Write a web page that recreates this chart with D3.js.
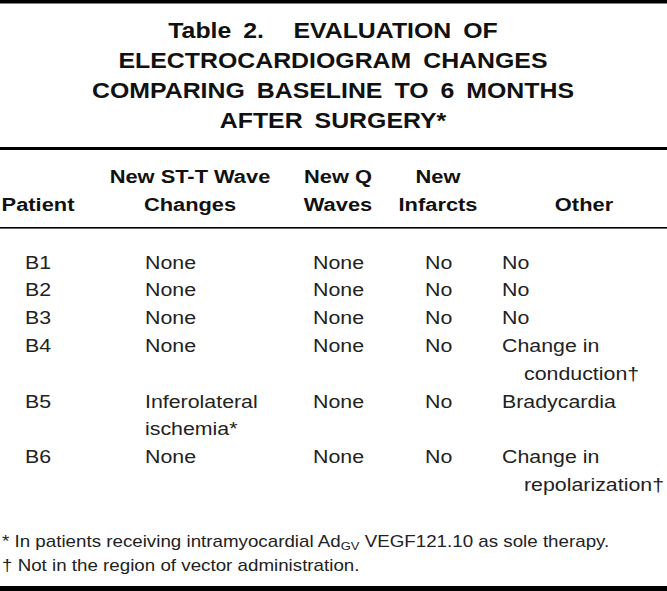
<!DOCTYPE html>
<html>
<head>
<meta charset="utf-8">
<script src="https://cdn.jsdelivr.net/npm/d3@7"></script>
<style>
  body { margin: 0; background: #fff; }
  svg { display: block; }
  text { font-family: "Liberation Sans", Arial, Helvetica, sans-serif; fill: #111; }
</style>
</head>
<body>
<div id="chart"></div>
<script>
// table content
var titleLines = ["Table 2.", "ELECTROCARDIOGRAM CHANGES", "COMPARING BASELINE TO 6 MONTHS", "AFTER SURGERY*"];
var titleTail = "EVALUATION OF";

var columns = ["patient", "st", "q", "infarct", "other"];
var headers = [["Patient"], ["New ST-T Wave", "Changes"], ["New Q", "Waves"], ["New", "Infarcts"], ["Other"]];

var patients  = ["B1", "B2", "B3", "B4", "B5", "B6"];
var stChanges = [["None"], ["None"], ["None"], ["None"], ["Inferolateral", "ischemia*"], ["None"]];
var qWaves    = [["None"], ["None"], ["None"], ["None"], ["None"], ["None"]];
var infarcts  = [["No"], ["No"], ["No"], ["No"], ["No"], ["No"]];
var other     = [["No"], ["No"], ["No"], ["Change in", "conduction\u2020"], ["Bradycardia"], ["Change in", "repolarization\u2020"]];

var footnotes = [
  [{t: "* In patients receiving intramyocardial Ad"}, {t: "GV", sub: true}, {t: " VEGF121.10 as sole therapy."}],
  [{t: "\u2020 Not in the region of vector administration."}]
];

function run_table() {
  var width = 667,
      height = 591,
      sx = 1.13; // glyphs in the scan are a bit wider than Liberation

  var svg = d3.select("#chart").append("svg")
      .attr("width", width)
      .attr("height", height);

  // rules
  var rules = [
    {y: 0, h: 3.5},
    {y: 147, h: 3},
    {y: 227, h: 1.6},
    {y: 586, h: 5}
  ];
  svg.selectAll("rect.rule")
    .data(rules)
    .enter().append("rect")
      .attr("class", "rule")
      .attr("x", 0)
      .attr("width", width)
      .attr("y", function(d) { return d.y; })
      .attr("height", function(d) { return d.h; })
      .style("fill", "#000");

  // title
  var titleY = d3.scaleLinear().domain([0, 3]).range([38, 127.5]);
  var title = svg.selectAll("text.title")
    .data(titleLines)
    .enter().append("text")
      .attr("class", "title")
      .attr("text-anchor", "middle")
      .attr("transform", function(d, i) { return "translate(333," + titleY(i) + ") scale(" + sx + ",1)"; })
      .style("font-weight", "bold")
      .style("font-size", "22px")
      .style("word-spacing", "4.5px");
  title.append("tspan").text(function(d) { return d; });
  title.filter(function(d, i) { return i === 0; })
    .append("tspan").attr("dx", 26).text(titleTail);

  // column positions
  var headX = d3.scaleOrdinal().domain(columns).range([38, 190, 338, 438, 584]);
  var bodyX = d3.scaleOrdinal().domain(columns).range([38, 145, 313, 425, 502]);
  var bodyAnchor = d3.scaleOrdinal().domain(columns).range(["middle", "start", "start", "start", "start"]);

  // header (bottom aligned)
  var headY = d3.scaleLinear().domain([0, 1]).range([183, 211]);
  headers.forEach(function(lines, c) {
    svg.selectAll(null)
      .data(lines)
      .enter().append("text")
        .attr("text-anchor", "middle")
        .attr("transform", function(d, i) {
          var k = i + (2 - lines.length);
          return "translate(" + headX(columns[c]) + "," + headY(k) + ") scale(1.15,1)";
        })
        .style("font-weight", "bold")
        .style("font-size", "19px")
        .text(function(d) { return d; });
  });

  // body rows
  var lineY = d3.scaleLinear().domain([0, 1]).range([268.5, 296.3]);
  var rows = patients.map(function(p, i) {
    return {patient: [p], st: stChanges[i], q: qWaves[i], infarct: infarcts[i], other: other[i]};
  });
  var start = 0;
  rows.forEach(function(r) {
    r.start = start;
    start += d3.max(columns, function(c) { return r[c].length; });
  });

  rows.forEach(function(r) {
    columns.forEach(function(c) {
      svg.selectAll(null)
        .data(r[c])
        .enter().append("text")
          .attr("text-anchor", bodyAnchor(c))
          .attr("transform", function(d, i) {
            var x = bodyX(c) + (c === "other" && i > 0 ? 22 : 0);
            return "translate(" + x + "," + lineY(r.start + i) + ") scale(" + sx + ",1)";
          })
          .style("font-size", "18.9px")
          .style("fill", "#222")
          .text(function(d) { return d; });
    });
  });

  // footnotes
  var noteY = d3.scaleLinear().domain([0, 1]).range([547, 571]);
  footnotes.forEach(function(parts, i) {
    var t = svg.append("text")
      .attr("transform", "translate(2," + noteY(i) + ") scale(" + sx + ",1)")
      .style("font-size", "16.6px")
      .style("fill", "#222");
    parts.forEach(function(p) {
      var s = t.append("tspan").text(p.t);
      if (p.sub) s.style("font-size", "11.5px").attr("dy", 3);
      else if (s.node().previousSibling) s.attr("dy", -3);
    });
  });
}

run_table();
</script>
</body>
</html>
